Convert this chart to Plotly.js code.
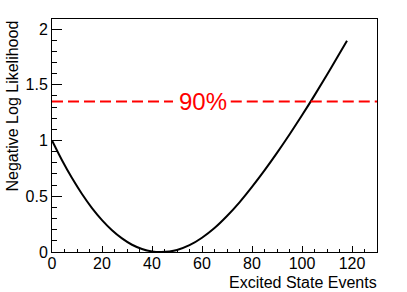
<!DOCTYPE html>
<html>
<head>
<meta charset="utf-8">
<script src="https://cdn.plot.ly/plotly-3.0.1.min.js"></script>
<style>html,body{margin:0;padding:0;background:#fff;}#chart{width:407px;height:292px;}</style>
</head>
<body>
<div id="chart"></div>
<script>
// Curve: negative log likelihood vs. number of excited state events
const events = [0, 4, 8, 12, 16, 20, 24, 28, 32, 36, 40, 43.5, 47, 50, 55, 60, 65, 70, 75, 80, 85, 90, 95, 100, 105, 110, 115, 118];
const nll    = [1.0, 0.823, 0.663, 0.52, 0.394, 0.286, 0.195, 0.122, 0.065, 0.027, 0.005, 0.0, 0.0045, 0.018, 0.061, 0.128, 0.215, 0.323, 0.446, 0.584, 0.732, 0.889, 1.054, 1.226, 1.405, 1.59, 1.78, 1.895];
// 90% confidence level line
const clLevel = 1.35;
const clLineX = [0, 48.4, null, 71.5, 130];
const clLabel = "90%";
const clLabelX = 60.4;
const xTitle = "Excited State Events";
const yTitle = "Negative Log Likelihood";

const font = "'Liberation Sans', Arial, Helvetica, sans-serif";

const traces = [
  {x: events, y: nll, type: 'scatter', mode: 'lines', line: {color: '#000', width: 2, shape: 'spline', smoothing: 1}, hoverinfo: 'skip'},
  {x: clLineX, y: clLineX.map(v => v === null ? null : clLevel), type: 'scatter', mode: 'lines', connectgaps: false,
   line: {color: '#ff0000', width: 2, dash: '11px,5px'}, hoverinfo: 'skip'}
];

const layout = {
  width: 407, height: 292,
  margin: {l: 52, r: 30, t: 19, b: 40, pad: 0},
  paper_bgcolor: '#fff', plot_bgcolor: '#fff',
  showlegend: false,
  font: {family: font, size: 15, color: '#000'},
  xaxis: {
    range: [0, 130], dtick: 20, tick0: 0,
    ticks: 'inside', ticklen: 6, tickwidth: 1, tickcolor: '#000',
    minor: {dtick: 5, ticks: 'inside', ticklen: 3, tickcolor: '#000'},
    showgrid: false, zeroline: false,
    showline: true, linecolor: '#000', linewidth: 1, mirror: true,
    ticklabelstandoff: -3,
    tickfont: {size: 16, family: font}
  },
  yaxis: {
    range: [0, 2.09], dtick: 0.5, tick0: 0,
    ticks: 'inside', ticklen: 10, tickwidth: 1, tickcolor: '#000',
    minor: {dtick: 0.1, ticks: 'inside', ticklen: 5, tickcolor: '#000'},
    showgrid: false, zeroline: false,
    showline: true, linecolor: '#000', linewidth: 1, mirror: true,
    tickfont: {size: 16, family: font}
  },
  annotations: [
    {x: clLabelX, y: clLevel, xref: 'x', yref: 'y', text: clLabel, showarrow: false,
     font: {size: 24, color: '#ff0000', family: font}, xanchor: 'center', yanchor: 'middle'},
    {x: 1, y: 0, xref: 'paper', yref: 'paper', text: xTitle, showarrow: false, yshift: -20, xshift: 2,
     font: {size: 16, family: font}, xanchor: 'right', yanchor: 'top'},
    {x: 0, y: 1, xref: 'paper', yref: 'paper', text: yTitle, showarrow: false, textangle: -90, xshift: -40,
     font: {size: 16, family: font}, xanchor: 'center', yanchor: 'top'}
  ]
};

Plotly.newPlot('chart', traces, layout, {staticPlot: true, displayModeBar: false});
</script>
</body>
</html>
